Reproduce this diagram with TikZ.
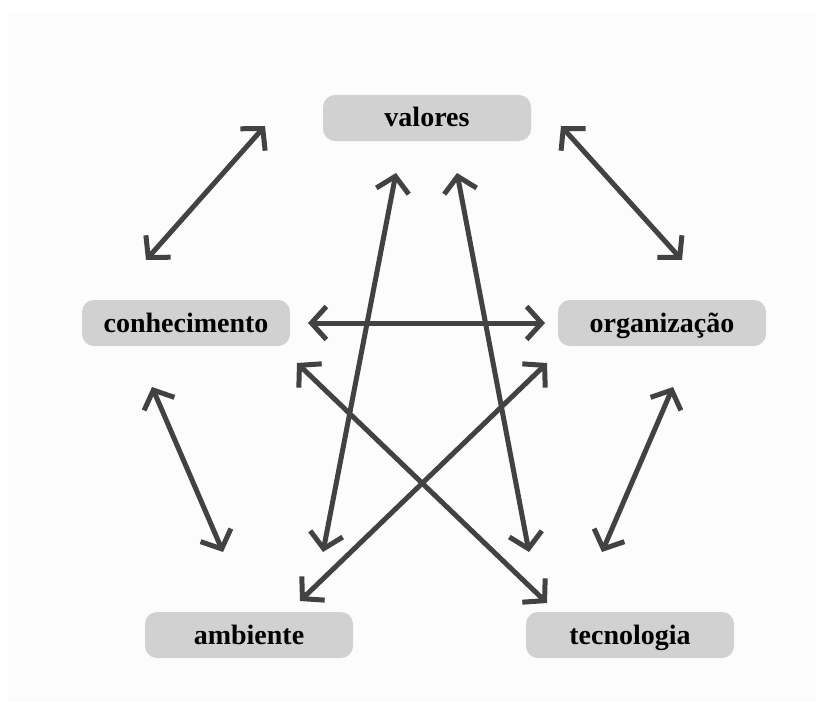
\documentclass[tikz,border=0pt]{standalone}
\usepackage{fontspec}
\setmainfont{Liberation Serif}
\usetikzlibrary{arrows.meta}
\definecolor{boxgray}{HTML}{D1D1D1}
\definecolor{arrowgray}{HTML}{424242}
\definecolor{panel}{HTML}{FCFCFC}
\begin{document}
\begin{tikzpicture}[x=1pt, y=-1pt,
    main/.style = {fill=boxgray, rounded corners=12pt, minimum width=208pt, minimum height=46pt, inner sep=0pt, text height=20pt, text depth=2pt, font=\fontsize{28}{30}\selectfont\bfseries},
    link/.style = {draw=arrowgray, line width=5pt, {Straight Barb[length=15pt,width=33pt]}-{Straight Barb[length=15pt,width=33pt]}}]

    \useasboundingbox (0,0) rectangle (816,706);
    \fill[panel] (8,12) rectangle (816,702);

    \node[main] (val) at (427, 118) {valores};
    \node[main] (con) at (186, 323) {conhecimento};
    \node[main] (org) at (662, 323) {organização};
    \node[main] (amb) at (249, 635) {ambiente};
    \node[main] (tec) at (630, 635) {tecnologia};

    \coordinate (cv1) at (146, 260);
    \coordinate (cv2) at (265, 126);
    \coordinate (vo1) at (561, 126);
    \coordinate (vo2) at (682, 260);
    \coordinate (co1) at (308, 323);
    \coordinate (co2) at (545, 323);
    \coordinate (ca1) at (152, 387);
    \coordinate (ca2) at (223, 552);
    \coordinate (ot1) at (673, 387);
    \coordinate (ot2) at (602, 552);
    \coordinate (va1) at (396, 173);
    \coordinate (va2) at (323, 552);
    \coordinate (vt1) at (457, 173);
    \coordinate (vt2) at (529, 552);
    \coordinate (oa1) at (547, 363);
    \coordinate (oa2) at (300, 601);
    \coordinate (ct1) at (297, 363);
    \coordinate (ct2) at (547, 603);

    \draw[link] (cv1) -- (cv2);
    \draw[link] (vo1) -- (vo2);
    \draw[link] (co1) -- (co2);
    \draw[link] (ca1) -- (ca2);
    \draw[link] (ot1) -- (ot2);
    \draw[link] (va1) -- (va2);
    \draw[link] (vt1) -- (vt2);
    \draw[link] (oa1) -- (oa2);
    \draw[link] (ct1) -- (ct2);

\end{tikzpicture}
\end{document}
